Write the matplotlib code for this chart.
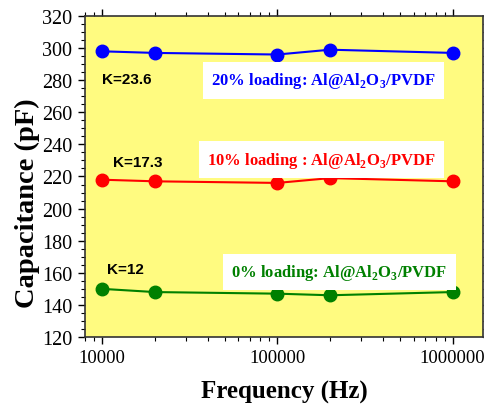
import numpy as np
import matplotlib.pyplot as plt
from matplotlib.ticker import MultipleLocator, FixedLocator, NullFormatter

# data
freq = [1e4, 2e4, 1e5, 2e5, 1e6]
cap_20 = [298, 297, 296, 299, 297]
cap_10 = [218, 217, 216, 219, 217]
cap_0 = [150, 148, 147, 146, 148]

plt.rcParams['font.family'] = ['Liberation Serif', 'DejaVu Serif']
plt.rcParams['mathtext.fontset'] = 'custom'
plt.rcParams['mathtext.rm'] = 'Liberation Serif'
plt.rcParams['mathtext.bf'] = 'Liberation Serif:bold'

fig = plt.figure(figsize=(4.85, 4.06), dpi=100)
ax = fig.add_axes([85/485, 1 - 338/406, 398/485, 321/406])
ax.set_facecolor('#fffb80')

ax.plot(freq, cap_20, '-o', color='#0000ff', lw=1.5, ms=9)
ax.plot(freq, cap_10, '-o', color='#ff0000', lw=1.5, ms=9)
ax.plot(freq, cap_0, '-o', color='#008000', lw=1.5, ms=9)

ax.set_xscale('log')
ax.set_xlim(8000, 1.49e6)
ax.set_ylim(120, 320)
ax.yaxis.set_major_locator(MultipleLocator(20))
ax.yaxis.set_minor_locator(MultipleLocator(5))
ax.xaxis.set_major_locator(FixedLocator([1e4, 1e5, 1e6]))
ax.set_xticklabels(['10000', '100000', '1000000'])
ax.xaxis.set_minor_formatter(NullFormatter())

ax.tick_params(axis='both', which='major', labelsize=14.5, length=5, width=1, direction='out', pad=4)
ax.tick_params(axis='x', which='major', labelsize=13.5)
ax.tick_params(axis='both', which='minor', length=3, width=0.8, direction='out')
ax.tick_params(which='both', top=True, right=True)
for s in ax.spines.values():
    s.set_linewidth(1.2)
    s.set_color('#333333')

ax.set_xlabel('Frequency (Hz)', fontsize=18, fontweight='bold', labelpad=10)
ax.set_ylabel('Capacitance (pF)', fontsize=20.5, fontweight='bold')
ax.yaxis.set_label_coords(-0.113, 0.42)

sans = ['Liberation Sans', 'DejaVu Sans']
ax.text(1.0e4, 281, 'K=23.6', family=sans, fontweight='bold', fontsize=11, va='center')
ax.text(1.156e4, 229, 'K=17.3', family=sans, fontweight='bold', fontsize=11, va='center')
ax.text(1.068e4, 162.5, 'K=12', family=sans, fontweight='bold', fontsize=11, va='center')

box = dict(facecolor='white', edgecolor='none', pad=6)
ax.text(4.2e4, 280, r'20% loading: Al@Al$_\mathbf{2}$O$_\mathbf{3}$/PVDF', color='#0000ff',
        fontweight='bold', fontsize=12, bbox=box, va='center')
ax.text(3.98e4, 230.5, r'10% loading : Al@Al$_\mathbf{2}$O$_\mathbf{3}$/PVDF', color='#ff0000',
        fontweight='bold', fontsize=12, bbox=box, va='center')
ax.text(5.46e4, 160.5, r'0% loading: Al@Al$_\mathbf{2}$O$_\mathbf{3}$/PVDF', color='#008000',
        fontweight='bold', fontsize=12, bbox=box, va='center')

fig.savefig('out.png', dpi=100)
